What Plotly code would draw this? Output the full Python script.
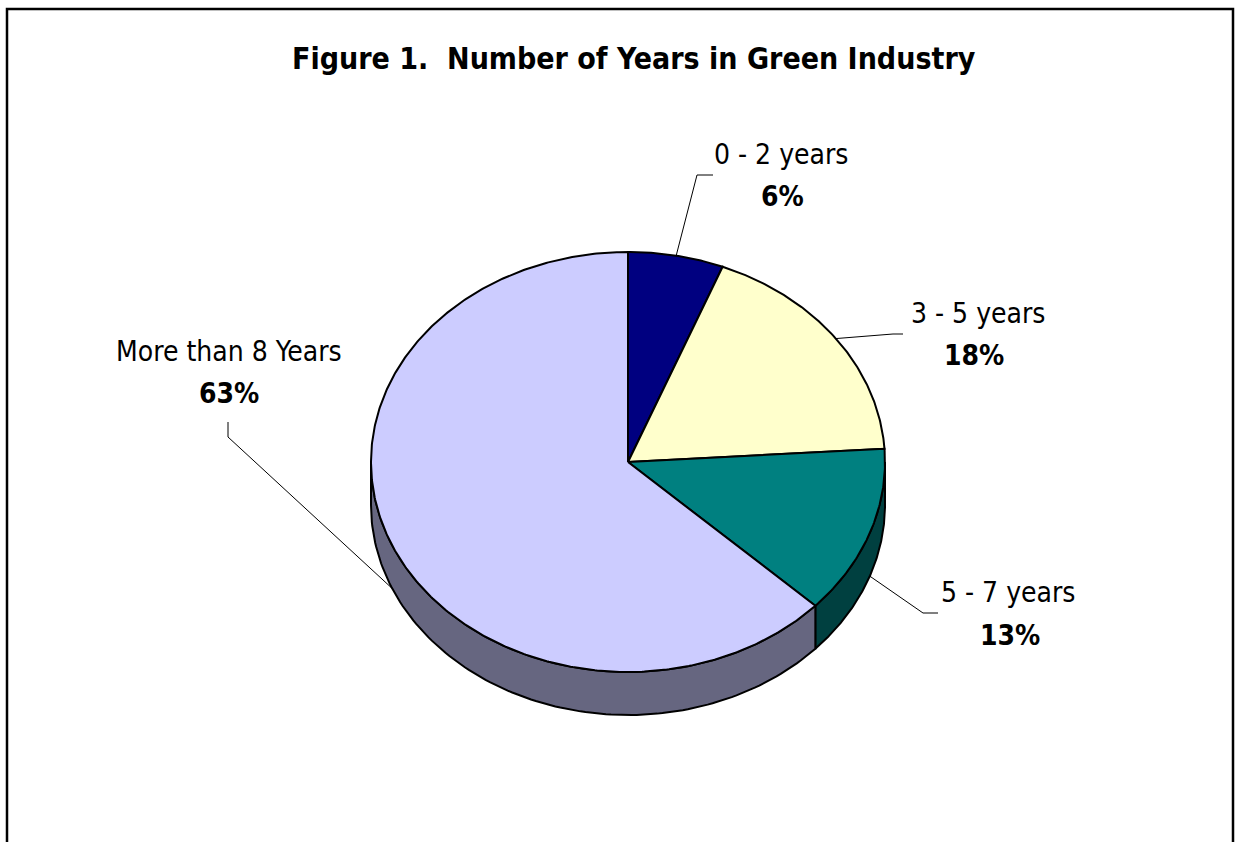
import numpy as np
import plotly.graph_objects as go

# ---- data ----
categories = ["0 - 2 years", "3 - 5 years", "5 - 7 years", "More than 8 Years"]
values = [6, 18, 13, 63]
pct_labels = ["6%", "18%", "13%", "63%"]
title_text = "Figure 1.  Number of Years in Green Industry"

# ---- styles / layout ----
top_colors = ["#000080", "#FFFFCC", "#008080", "#CCCCFF"]
side_colors = ["#000040", "#808066", "#004040", "#666680"]
W, H = 1235, 842
CX, CY, RX, RY, DEPTH = 628, 462, 257, 210, 43
FONT = "Liberation Sans Narrow, Arial Narrow, DejaVu Sans Condensed, Liberation Sans, sans-serif"

# label placement (pixel space): name center, pct center, leader elbow, leader end
label_name_pos = [(781, 154), (978, 313), (1008, 592), (229, 351)]
label_pct_pos = [(782, 196), (974, 355), (1010, 635), (229, 393)]
leader_elbow = [(697, 175), (893, 334), (923, 613), (228, 437)]
leader_end = [(713, 175), (903, 334), (938, 613), (228, 422)]


def ell(theta_deg, dy=0.0):
    t = np.radians(theta_deg)
    return CX + RX * np.sin(t), CY - RY * np.cos(t) + dy


fig = go.Figure()

total = float(sum(values))
bounds = np.concatenate([[0.0], np.cumsum(values) / total * 360.0])

# side faces (visible for angles 90..270)
for i in range(len(values)):
    a0, a1 = bounds[i], bounds[i + 1]
    s0, s1 = max(a0, 90.0), min(a1, 270.0)
    if s0 < s1:
        th = np.linspace(s0, s1, 120)
        xt, yt = ell(th)
        xb, yb = ell(th[::-1], DEPTH)
        xs = np.concatenate([xt, xb, xt[:1]])
        ys = np.concatenate([yt, yb, yt[:1]])
        fig.add_trace(go.Scatter(x=xs, y=ys, mode="lines", fill="toself",
                                 fillcolor=side_colors[i],
                                 line=dict(color="black", width=2),
                                 hoverinfo="skip", showlegend=False))

# top faces
for i in range(len(values)):
    a0, a1 = bounds[i], bounds[i + 1]
    th = np.linspace(a0, a1, max(int((a1 - a0) * 2), 10))
    xa, ya = ell(th)
    xs = np.concatenate([[CX], xa, [CX]])
    ys = np.concatenate([[CY], ya, [CY]])
    fig.add_trace(go.Scatter(x=xs, y=ys, mode="lines", fill="toself",
                             fillcolor=top_colors[i],
                             line=dict(color="black", width=2),
                             hoverinfo="skip", showlegend=False,
                             name=categories[i]))

# leader lines and labels
for i in range(len(values)):
    mid = (bounds[i] + bounds[i + 1]) / 2.0
    dy = DEPTH if 90 < mid < 270 else 0.0
    sx, sy = ell(mid, dy)
    ex, ey = leader_elbow[i]
    fx, fy = leader_end[i]
    fig.add_trace(go.Scatter(x=[sx, ex, fx], y=[sy, ey, fy], mode="lines",
                             line=dict(color="black", width=1),
                             hoverinfo="skip", showlegend=False))
    nx, ny = label_name_pos[i]
    px, py = label_pct_pos[i]
    fig.add_annotation(x=nx, y=ny, text=categories[i], showarrow=False,
                       xanchor="center", yanchor="middle",
                       font=dict(family=FONT, size=28, color="black"))
    fig.add_annotation(x=px, y=py, text="<b>" + pct_labels[i] + "</b>", showarrow=False,
                       xanchor="center", yanchor="middle",
                       font=dict(family=FONT, size=28, color="black"))

fig.add_annotation(x=634, y=58, text="<b>" + title_text + "</b>", showarrow=False,
                   xanchor="center", yanchor="middle",
                   font=dict(family=FONT, size=30, color="black"))

# outer frame (bottom edge falls outside the view)
fig.add_shape(type="rect", x0=7, y0=9, x1=1233, y1=900,
              line=dict(color="black", width=2.5), layer="above")

fig.update_xaxes(range=[0, W], visible=False, fixedrange=True)
fig.update_yaxes(range=[H, 0], visible=False, fixedrange=True)
fig.update_layout(width=W, height=H, margin=dict(l=0, r=0, t=0, b=0),
                  paper_bgcolor="white", plot_bgcolor="white",
                  showlegend=False, hovermode=False)

fig.write_html("out.html", config={"displayModeBar": False},
               post_script="document.body.style.margin='0px';"
                           "document.body.style.overflow='hidden';")
